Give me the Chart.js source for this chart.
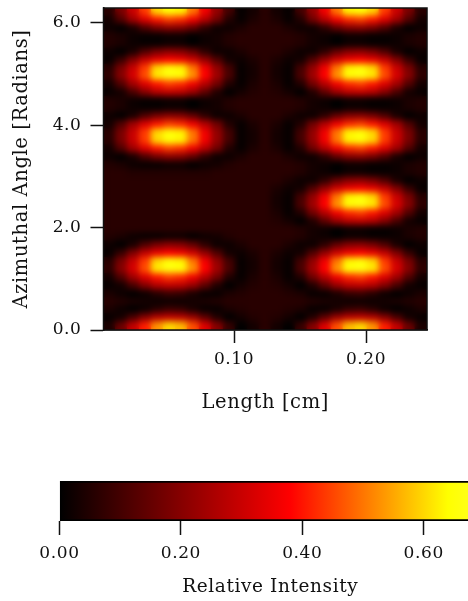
<!DOCTYPE html>
<html>
<head>
<meta charset="utf-8">
<title>Relative Intensity</title>
<script src="https://cdn.jsdelivr.net/npm/chart.js@4/dist/chart.umd.min.js"></script>
<style>
    html, body { margin: 0; padding: 0; background: #fff; width: 468px; height: 601px; overflow: hidden; }
    canvas { display: block; filter: blur(0.4px); }
</style>
</head>
<body>
<canvas id="heat" width="468" height="440"></canvas>
<canvas id="bar" width="481" height="161"></canvas>
<script>
// column centres [cm]
const lengthCm = [0.0057, 0.0148, 0.0238, 0.0329, 0.0420, 0.0511, 0.0602, 0.0692, 0.0783, 0.0874, 0.0965, 0.1056, 0.1146, 0.1237, 0.1328, 0.1419, 0.1510, 0.1600, 0.1691, 0.1782, 0.1873, 0.1964, 0.2054, 0.2145, 0.2236, 0.2327, 0.2418];
// row centres [radians], top row first
const angleRad = [6.211, 6.054, 5.897, 5.739, 5.582, 5.425, 5.268, 5.110, 4.953, 4.796, 4.639, 4.481, 4.324, 4.167, 4.010, 3.853, 3.695, 3.538, 3.381, 3.224, 3.066, 2.909, 2.752, 2.595, 2.437, 2.280, 2.123, 1.966, 1.809, 1.651, 1.494, 1.337, 1.180, 1.022, 0.865, 0.708, 0.551, 0.393, 0.236, 0.079];
// intensity in hundredths, one line per row of angleRad
const intensity = [
    [6,18,30,44,60,65,63,50,36,22,10,1,3,6,3,1,10,22,36,50,63,65,60,44,30,18,6],
    [3,12,24,33,40,44,42,36,27,17,5,1,4,6,4,1,5,17,27,36,42,44,40,33,24,12,3],
    [2,0,4,12,18,21,20,15,7,2,2,4,6,6,6,4,2,2,7,15,20,21,18,12,4,0,2],
    [5,4,2,1,1,2,2,0,2,3,5,6,6,6,6,6,5,3,2,0,2,2,1,1,2,4,5],
    [5,4,2,1,1,2,2,0,2,3,5,6,6,6,6,6,5,3,2,0,2,2,1,1,2,4,5],
    [2,0,4,12,18,21,20,15,7,2,2,4,6,6,6,4,2,2,7,15,20,21,18,12,4,0,2],
    [1,8,19,29,35,38,36,31,22,12,3,2,4,6,4,2,3,12,22,31,36,38,35,29,19,8,1],
    [6,18,30,44,60,65,63,50,36,22,10,1,3,6,3,1,10,22,36,50,63,65,60,44,30,18,6],
    [7,20,32,46,62,66,65,53,38,24,11,1,3,6,3,1,11,24,38,53,65,66,62,46,32,20,7],
    [3,12,24,33,40,44,42,36,27,17,5,1,4,6,4,1,5,17,27,36,42,44,40,33,24,12,3],
    [1,3,11,20,27,29,28,23,14,5,0,3,5,6,5,3,0,5,14,23,28,29,27,20,11,3,1],
    [5,4,2,1,1,2,2,0,2,3,5,6,6,6,6,6,5,3,2,0,2,2,1,1,2,4,5],
    [5,4,2,1,1,2,2,0,2,3,5,6,6,6,6,6,5,3,2,0,2,2,1,1,2,4,5],
    [2,0,4,12,18,21,20,15,7,2,2,4,6,6,6,4,2,2,7,15,20,21,18,12,4,0,2],
    [3,12,24,33,40,44,42,36,27,17,5,1,4,6,4,1,5,17,27,36,42,44,40,33,24,12,3],
    [6,18,30,44,60,65,63,50,36,22,10,1,3,6,3,1,10,22,36,50,63,65,60,44,30,18,6],
    [6,18,30,44,60,65,63,50,36,22,10,1,3,6,3,1,10,22,36,50,63,65,60,44,30,18,6],
    [3,12,24,33,40,44,42,36,27,17,5,1,4,6,4,1,5,17,27,36,42,44,40,33,24,12,3],
    [2,0,4,12,18,21,20,15,7,2,2,4,6,6,6,4,2,2,7,15,20,21,18,12,4,0,2],
    [5,4,2,1,1,2,2,0,2,3,5,6,6,6,6,6,5,3,2,0,2,2,1,1,2,4,5],
    [6,6,5,5,5,5,5,5,5,6,6,6,6,6,6,6,5,3,2,0,2,2,1,1,2,4,5],
    [6,6,6,6,6,6,6,6,6,6,6,6,6,6,6,4,2,2,7,15,20,21,18,12,4,0,2],
    [6,6,6,6,6,6,6,6,6,6,6,6,6,6,4,2,3,12,22,31,36,38,35,29,19,8,1],
    [6,6,6,6,6,6,6,6,6,6,6,6,6,6,3,1,10,22,36,50,63,65,60,44,30,18,6],
    [6,6,6,6,6,6,6,6,6,6,6,6,6,6,3,1,11,24,38,53,65,66,62,46,32,20,7],
    [6,6,6,6,6,6,6,6,6,6,6,6,6,6,4,1,5,17,27,36,42,44,40,33,24,12,3],
    [6,6,6,6,6,6,6,6,6,6,6,6,6,6,5,3,0,5,14,23,28,29,27,20,11,3,1],
    [6,6,6,6,6,6,6,6,6,6,6,6,6,6,6,6,5,3,2,0,2,2,1,1,2,4,5],
    [5,4,2,1,1,2,2,0,2,3,5,6,6,6,6,6,5,3,2,0,2,2,1,1,2,4,5],
    [2,0,4,12,18,21,20,15,7,2,2,4,6,6,6,4,2,2,7,15,20,21,18,12,4,0,2],
    [1,8,19,29,35,38,36,31,22,12,3,2,4,6,4,2,3,12,22,31,36,38,35,29,19,8,1],
    [6,18,30,44,60,65,63,50,36,22,10,1,3,6,3,1,10,22,36,50,63,65,60,44,30,18,6],
    [7,20,32,46,62,66,65,53,38,24,11,1,3,6,3,1,11,24,38,53,65,66,62,46,32,20,7],
    [3,12,24,33,40,44,42,36,27,17,5,1,4,6,4,1,5,17,27,36,42,44,40,33,24,12,3],
    [1,3,11,20,27,29,28,23,14,5,0,3,5,6,5,3,0,5,14,23,28,29,27,20,11,3,1],
    [4,2,0,2,6,9,8,4,1,1,4,5,6,6,6,5,4,1,1,4,8,9,6,2,0,2,4],
    [6,5,4,3,2,2,2,3,4,5,6,6,6,6,6,6,6,5,4,3,2,2,2,3,4,5,6],
    [4,2,0,2,6,9,8,4,1,1,4,5,6,6,6,5,4,1,1,4,8,9,6,2,0,2,4],
    [1,3,11,20,27,29,28,23,14,5,0,3,5,6,5,3,0,5,14,23,28,29,27,20,11,3,1],
    [4,16,29,41,53,60,57,46,33,20,8,0,3,6,3,0,8,20,33,46,57,60,53,41,29,16,4]
];
const lengthTicks = [0.10, 0.20];
const angleTicks = [0.0, 2.0, 4.0, 6.0];
const barTicks = [0.00, 0.20, 0.40, 0.60];
const barRange = [0, 0.70];

// colour map stops: value, r, g, b
const mapStops = [[0, 0, 0, 0], [0.38, 255, 0, 0], [0.64, 255, 255, 0], [1, 255, 255, 255]];

function colorFor(v) {
    for (let i = 1; i < mapStops.length; i++) {
        const a = mapStops[i - 1], b = mapStops[i];
        if (v <= b[0]) {
            const t = Math.max(0, (v - a[0]) / (b[0] - a[0]));
            const mix = k => Math.round(a[k] + (b[k] - a[k]) * t);
            return `rgb(${mix(1)},${mix(2)},${mix(3)})`;
        }
    }
    return '#fff';
}

const inkColor = '#111';
const serif = 'DejaVu Serif';
const rowStep = angleRad[0] - angleRad[1];

const cells = [];
angleRad.forEach((angle, r) => {
    lengthCm.forEach((len, c) => {
        cells.push({ x: len, y: [angle - rowStep / 2, angle + rowStep / 2], v: intensity[r][c] / 100 });
    });
});

// tracking on the tick and title text
const spacing = {
    id: 'spacing',
    beforeLayout(chart) { chart.ctx.letterSpacing = '0.6px'; },
    beforeDraw(chart) { chart.ctx.letterSpacing = '0.6px'; }
};

// soften the cells, then frame the plot
const smooth = {
    id: 'smooth',
    afterDatasetsDraw(chart) {
        const { ctx, canvas } = chart;
        const { left, top, width, height } = chart.chartArea;
        ctx.save();
        ctx.beginPath();
        ctx.rect(left, top, width, height);
        ctx.clip();
        ctx.filter = 'blur(3px)';
        ctx.drawImage(canvas, left, top, width, height, left, top, width, height);
        ctx.restore();
    },
    afterDraw(chart) {
        const { ctx } = chart;
        const { left, top, width, height } = chart.chartArea;
        ctx.save();
        ctx.strokeStyle = inkColor;
        ctx.lineWidth = 1.5;
        ctx.strokeRect(left, top, width, height);
        ctx.restore();
    }
};

new Chart(document.getElementById('heat'), {
    type: 'bar',
    data: {
        datasets: [{
            data: cells,
            backgroundColor: c => c.raw ? colorFor(c.raw.v) : '#000',
            barPercentage: 1,
            categoryPercentage: 1,
            inflateAmount: 0.6
        }]
    },
    plugins: [spacing, smooth],
    options: {
        responsive: false,
        animation: false,
        events: [],
        layout: { padding: { top: 0, right: 41 } },
        plugins: { legend: { display: false }, tooltip: { enabled: false } },
        scales: {
            x: {
                type: 'linear',
                offset: false,
                min: 0.00114,
                max: 0.2462,
                afterBuildTicks: s => { s.ticks = lengthTicks.map(value => ({ value })); },
                afterFit: s => { s.height = 110; },
                grid: { offset: false, drawOnChartArea: false, tickLength: 13, tickColor: inkColor, tickWidth: 1.5 },
                border: { color: inkColor, width: 1.5 },
                ticks: { color: inkColor, padding: 6, maxRotation: 0, font: { family: serif, size: 17 }, callback: v => v.toFixed(2) },
                title: { display: true, text: 'Length [cm]', color: inkColor, font: { family: serif, size: 19.5 }, padding: { top: 0, bottom: 25 } }
            },
            y: {
                type: 'linear',
                min: 0,
                max: 6.29,
                afterBuildTicks: s => { s.ticks = angleTicks.map(value => ({ value })); },
                afterFit: s => { s.width = 103.5; s.paddingTop = 8; s.paddingBottom = 0; },
                grid: { drawOnChartArea: false, tickLength: 13, tickColor: inkColor, tickWidth: 1.5 },
                border: { color: inkColor, width: 1.5 },
                ticks: { color: inkColor, padding: 9, font: { family: serif, size: 17 }, callback: v => v.toFixed(1) },
                title: { display: true, text: 'Azimuthal Angle [Radians]', color: inkColor, font: { family: serif, size: 19.5 }, padding: { top: 10, bottom: 0 } }
            }
        }
    }
});

new Chart(document.getElementById('bar'), {
    type: 'bar',
    data: {
        labels: ['Relative Intensity'],
        datasets: [{
            data: [barRange],
            backgroundColor(c) {
                const s = c.chart.scales.x;
                const x0 = s ? s.getPixelForValue(barRange[0]) : NaN;
                const x1 = s ? s.getPixelForValue(barRange[1]) : NaN;
                if (!Number.isFinite(x0) || !Number.isFinite(x1)) { return '#000'; }
                const g = c.chart.ctx.createLinearGradient(x0, 0, x1, 0);
                mapStops.forEach(m => {
                    if (m[0] <= barRange[1]) { g.addColorStop(m[0] / barRange[1], colorFor(m[0])); }
                });
                g.addColorStop(1, colorFor(barRange[1]));
                return g;
            },
            borderColor: '#000',
            borderWidth: 2,
            borderSkipped: false,
            barPercentage: 1,
            categoryPercentage: 1
        }]
    },
    plugins: [spacing],
    options: {
        indexAxis: 'y',
        responsive: false,
        animation: false,
        events: [],
        layout: { padding: { top: 41 } },
        plugins: { legend: { display: false }, tooltip: { enabled: false } },
        scales: {
            x: {
                type: 'linear',
                min: 0,
                max: 0.6944,
                afterBuildTicks: s => { s.ticks = barTicks.map(value => ({ value })); },
                afterFit: s => { s.height = 80; },
                grid: { offset: false, drawOnChartArea: false, tickLength: 14, tickColor: inkColor, tickWidth: 1.5 },
                border: { display: false },
                ticks: { color: inkColor, padding: 8, maxRotation: 0, font: { family: serif, size: 17 }, callback: v => v.toFixed(2) },
                title: { display: true, text: 'Relative Intensity', color: inkColor, font: { family: serif, size: 18.5 }, padding: { top: 0, bottom: 3 } }
            },
            y: {
                afterFit: s => { s.width = 59.5; },
                grid: { display: false },
                border: { display: false },
                ticks: { display: false }
            }
        }
    }
});
</script>
</body>
</html>
